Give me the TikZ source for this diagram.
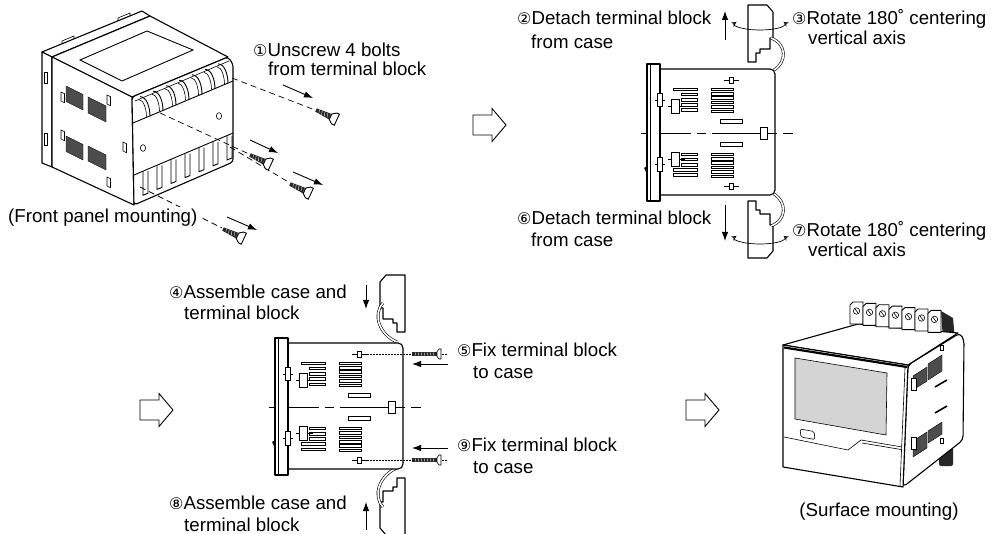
\documentclass[tikz,border=0pt]{standalone}
\usepackage{fontspec}
\setmainfont{Liberation Sans}
\newfontfamily\circfont{DejaVu Sans}
\usetikzlibrary{arrows.meta}

\newcommand{\cnum}[1]{{\circfont\fontsize{16}{16}\selectfont #1}}

\tikzset{
  dev/.style={draw, line width=1.1pt, line join=round, fill=white},
  thin/.style={draw, line width=0.6pt},
  vent/.style={draw, line width=0.4pt, fill=black!70},
  bar/.style={draw, line width=0.6pt, fill=white},
  strap/.style={draw, line width=0.6pt, double=white, double distance=1.6pt},
  push/.style={-{Latex[length=9pt,width=6.5pt]}, line width=0.9pt},
  turn/.style={{Stealth[open,length=5pt,width=5pt]}-{Stealth[open,length=5pt,width=5pt]}, line width=0.7pt},
  guide/.style={line width=0.7pt, dash pattern=on 6pt off 4pt},
  dotguide/.style={line width=0.7pt, dash pattern=on 1.5pt off 1.5pt},
  axisline/.style={line width=0.7pt, dash pattern=on 50pt off 6pt on 9pt off 6pt},
  hollow/.style={draw, line width=0.9pt, fill=white, line join=miter},
  lbl/.style={font=\fontsize{18.7}{22}\selectfont, anchor=base west, inner sep=0pt},
}

% side view of case (local coordinates, bezel top left = origin)
\newcommand{\sideview}{%
  \draw[dev, rounded corners=5pt] (12,5) -- (128,5) -- (128,131) -- (12,131);
  \draw[axisline] (-6,69) -- (146,69);
  \draw[dev] (0,0) rectangle (13,137);
  \draw[thin] (3,1) -- (3,136);
  \fill (-3,104) -- (0,102) -- (0,110) -- cycle;
  % vent bars
  \foreach \k in {0,...,4} {
    \pgfmathsetmacro\bx{\k==0 ? 26 : 34}
    \draw[bar] (\bx,24+5.2*\k) rectangle (50,26.6+5.2*\k);
  }
  \foreach \k in {0,...,4} {
    \pgfmathsetmacro\bx{\k<3 ? 34 : 26}
    \draw[bar] (\bx,89+5.2*\k) rectangle (50,91.6+5.2*\k);
  }
  \foreach \k in {0,...,5} {
    \draw[bar] (64,24+4.4*\k) rectangle (86,26.6+4.4*\k);
    \draw[bar] (64,89+4.4*\k) rectangle (86,91.6+4.4*\k);
  }
  \draw[bar] (73,55) rectangle (95,59);
  \draw[bar] (73,78) rectangle (95,82);
  \draw[bar] (113,63) rectangle (120,75);
  \draw[thin] (77,16) -- (92,16);
  \draw[bar] (82,13) rectangle (86,19);
  \draw[thin] (77,122) -- (92,122);
  \draw[bar] (82,119) rectangle (86,125);
  \draw[thin] (8,36) -- (18,36);
  \draw[bar] (10,29) rectangle (15,42);
  \draw[thin] (21,42) -- (38,42);
  \draw[bar] (24,35) rectangle (32,49);
  \draw[thin] (8,100) -- (18,100);
  \draw[bar] (10,93) rectangle (15,107);
  \draw[thin] (21,95) -- (38,95);
  \draw[bar] (24,88) rectangle (32,102);
}

% terminal block profile (local coordinates)
\newcommand{\termblock}{%
  \draw[dev] (0,0) -- (19,0) -- (25,7) -- (25,33) -- (22,33) -- (22,44)
    -- (12,44) -- (12,48) -- (8,48) -- (8,57) -- (0,57) -- cycle;
}

\begin{document}
\begin{tikzpicture}[x=1pt, y=-1pt]
  \useasboundingbox (0,0) rectangle (1001,534);

  % front panel mounting
  \draw[dev] (42,52) -- (142,11) -- (150,16) -- (52,57) -- cycle;
  \draw[dev] (42,52) -- (52,57) -- (52,167) -- (42,163) -- cycle;
  \draw[thin] (62,44) -- (62,41) -- (74,36) -- (74,39);
  \draw[thin] (118,21) -- (118,18) -- (130,13) -- (130,16);
  \draw[thin, fill=white] (44,72) rectangle (47,83);
  \draw[thin, fill=white] (44,133) rectangle (47,145);
  \draw[dev] (52,57) -- (150,16) -- (228,57) -- (132,97) -- cycle;
  \draw[thin, line width=0.9pt] (80,60) -- (147,31) -- (193,50) -- (122,81) -- cycle;
  \draw[dev] (52,57) -- (132,97) -- (134,205) -- (52,167) -- cycle;
  \draw[vent] (66,86) -- (83,94.5) -- (83,110) -- (66,101.5) -- cycle;
  \draw[vent] (88,97) -- (106,106) -- (106,122) -- (88,113) -- cycle;
  \draw[vent] (66,136) -- (83,144.5) -- (83,160) -- (66,151.5) -- cycle;
  \draw[vent] (88,146) -- (106,155) -- (106,170) -- (88,161) -- cycle;
  \foreach \px/\py in {61/92, 107/95, 61/130, 123/142, 107/177}
    \draw[thin, fill=white] (\px,\py) -- ++(3.5,1.7) -- ++(0,9) -- ++(-3.5,-1.7) -- cycle;
  \draw[dev, rounded corners=3pt] (132,97) -- (228,57) -- (233,64) -- (233,162) -- (134,205) -- cycle;
  \draw[thin] (135,101) -- (229,61);
  \draw[thin, line width=0.9pt] (133,123) -- (233,81);
  \draw[thin, line width=0.9pt] (134,175) -- (233,133);
  \foreach \i in {0,...,6} {
    \pgfmathsetmacro\fx{140+13*\i}
    \pgfmathsetmacro\fy{100-0.42*(\fx-132)}
    \draw[thin, line width=0.9pt] (\fx,\fy) .. controls +(7,0) and +(0,-8) .. +(10,19.5);
    \draw[thin] (\fx-1,\fy+3) .. controls +(5,0) and +(0,-6) .. +(7.5,17);
  }
  \foreach \i in {0,...,6} {
    \pgfmathsetmacro\fx{143+14*\i}
    \pgfmathsetmacro\fy{175-0.42*(\fx-134)}
    \draw[thin, line width=0.9pt] (\fx,\fy) -- ++(0,24) -- ++(5,-2) -- ++(0,-22);
  }
  \draw[thin] (143,148) ellipse (2.6 and 3.4);
  \draw[thin] (219,116) ellipse (2.6 and 3.4);
  % bolts
  \draw[guide] (232,78) -- (315,110);
  \draw[guide] (160,113) -- (249,154);
  \draw[guide] (230,147) -- (290,183);
  \draw[guide] (140,187) -- (222,228);
  \foreach \sx/\sy in {316/110, 250/155, 290/184, 223/229} {
    \begin{scope}[shift={(\sx,\sy)}, rotate=-25]
      \fill[black!85] (0,-1.8) -- (16,-3) -- (16,3) -- (0,1.8) -- cycle;
      \foreach \t in {3,6,...,15}
        \draw[white, line width=0.4pt] (\t,-1.8) -- (\t+1,1.8);
      \draw[thin, line width=0.9pt, fill=white] (16,-3) -- (20,-6) -- (23,-6) -- (23,6) -- (20,6) -- (16,3) -- cycle;
    \end{scope}
  }
  \draw[push] (283,85) -- (313,98);
  \draw[push] (250,140) -- (278,153);
  \draw[push] (293,172) -- (323,185);
  \draw[push] (227,217) -- (257,230);

  % step arrows
  \foreach \ax/\ay in {473/125, 140/410, 686/410}
    \draw[hollow] (\ax,\ay) ++(0,-10) -- ++(19,0) -- ++(0,-6.5) -- ++(14,16.5)
      -- ++(-14,16.5) -- ++(0,-6.5) -- ++(-19,0) -- cycle;

  % detach and rotate
  \begin{scope}[shift={(748,5)}]\termblock\end{scope}
  \begin{scope}[shift={(748,258)}, yscale=-1]\termblock\end{scope}
  \draw[strap] (771,38) .. controls (787,44) and (787,62) .. (774,70);
  \draw[strap] (774,194) .. controls (787,202) and (787,220) .. (771,226);
  \begin{scope}[shift={(647,64)}]\sideview\end{scope}
  \draw[turn] (760,24) ++(200:25 and 6) arc[start angle=200, end angle=-20, x radius=25, y radius=6];
  \draw[turn] (760,238) ++(200:25 and 6) arc[start angle=200, end angle=-20, x radius=25, y radius=6];
  \draw[push] (725,40) -- (725,11);
  \draw[push] (725,205) -- (725,241);

  % assemble and fix
  \begin{scope}[shift={(405,275)}, xscale=-1]\termblock\end{scope}
  \begin{scope}[shift={(405,535)}, xscale=-1, yscale=-1]\termblock\end{scope}
  \draw[strap] (383,303) .. controls (372,315) and (380,335) .. (397,342);
  \draw[strap] (397,468) .. controls (380,475) and (372,495) .. (383,507);
  \begin{scope}[shift={(275,338)}]\sideview\end{scope}
  \draw[dotguide] (367,354) -- (447,354);
  \draw[dotguide] (367,460) -- (447,460);
  \foreach \sy in {354, 460} {
    \fill[black!85] (412,\sy-2.3) rectangle (437,\sy+2.3);
    \foreach \t in {415,418,...,434}
      \draw[white, line width=0.4pt] (\t,\sy-1.6) -- (\t+1,\sy+1.6);
    \draw[thin, fill=white] (437,\sy-2.3) -- (439,\sy-5) -- (441,\sy-5) -- (441,\sy+5) -- (439,\sy+5) -- (437,\sy+2.3) -- cycle;
  }
  \draw[push] (448,364) -- (412,364);
  \draw[push] (448,448) -- (412,448);
  \draw[push] (366,285) -- (366,309);
  \draw[push] (366,530) -- (366,502);

  % surface mounting
  \fill[black!85] (941,311) -- (953,318) -- (955,340) -- (943,340) -- cycle;
  \fill[black!85, rounded corners=2pt] (939,440) rectangle (953,466);
  \draw[dev, rounded corners=4pt] (908,365) -- (960,333) -- (964,340) -- (963,440) -- (903,487) -- cycle;
  \draw[dev] (783,345) -- (858,324) -- (958,333) -- (908,365) -- cycle;
  \foreach \i in {0,...,6} {
    \begin{scope}[shift={(850+13*\i,302+1.4*\i)}]
      \draw[thin, line width=0.9pt, fill=white] (0,3) -- (3,0) -- (13,0) -- (13,22) -- (0,22) -- cycle;
      \draw[thin] (6.5,9) circle (3.2);
      \draw[thin] (5,7) -- (8,11);
    \end{scope}
  }
  \draw[vent] (913,376) -- (927,367) -- (927,381) -- (913,390) -- cycle;
  \draw[vent] (928,364) -- (942,355) -- (942,371) -- (928,380) -- cycle;
  \draw[vent] (913,441) -- (927,432) -- (927,448) -- (913,457) -- cycle;
  \draw[vent] (928,431) -- (942,422) -- (942,434) -- (928,443) -- cycle;
  \draw[thin, fill=white] (911,378) rectangle (916,390);
  \draw[thin, fill=white] (911,437) rectangle (916,449);
  \draw[thin, fill=white] (940,345) rectangle (943,350);
  \draw[thin, fill=white] (940,438) rectangle (943,443);
  \draw[line width=1.6pt] (935,387) -- (947,380);
  \draw[line width=1.6pt] (935,413) -- (947,406);
  \draw[dev] (783,345) -- (908,365) -- (903,487) -- (783,467) -- cycle;
  \draw[line width=2.2pt] (784,347.5) -- (907,367);
  \draw[thin] (905,368) -- (900,486);
  \draw[thin, fill=black!17] (795,358) -- (887,373) -- (886,435) -- (795,419) -- cycle;
  \draw[thin] (784,437) -- (848,450) -- (861,440) -- (902,447);
  \draw[thin] (862,443) -- (901,449.5);
  \draw[thin, rounded corners=1.5pt] (800,429) -- (814,431.5) -- (815,439.5) -- (801,437) -- cycle;

  % labels
  \node[lbl] (bolts1) at (253,56.5) {\cnum{①}Unscrew 4 bolts};
  \node[lbl] (bolts2) at (268,75.5) {from terminal block};
  \node[lbl, fill=white, inner sep=1.5pt] (front) at (6.5,222.5) {(Front panel mounting)};
  \node[lbl] (detachup1) at (517,24.5) {\cnum{②}Detach terminal block};
  \node[lbl] (detachup2) at (531,48.5) {from case};
  \node[lbl] (rotup1) at (792,24.5) {\cnum{③}Rotate 180˚ centering};
  \node[lbl] (rotup2) at (808,44.5) {vertical axis};
  \node[lbl] (detachdn1) at (517,224.5) {\cnum{⑥}Detach terminal block};
  \node[lbl] (detachdn2) at (531,246.5) {from case};
  \node[lbl] (rotdn1) at (792,236.5) {\cnum{⑦}Rotate 180˚ centering};
  \node[lbl] (rotdn2) at (808,256.5) {vertical axis};
  \node[lbl] (assup1) at (169,298.5) {\cnum{④}Assemble case and};
  \node[lbl] (assup2) at (184,319.5) {terminal block};
  \node[lbl] (fixup1) at (457,356.5) {\cnum{⑤}Fix terminal block};
  \node[lbl] (fixup2) at (473,378.5) {to case};
  \node[lbl] (fixdn1) at (457,451.5) {\cnum{⑨}Fix terminal block};
  \node[lbl] (fixdn2) at (473,473.5) {to case};
  \node[lbl] (assdn1) at (169,509.5) {\cnum{⑧}Assemble case and};
  \node[lbl] (assdn2) at (184,531) {terminal block};
  \node[lbl, anchor=base] (surface) at (879,516.5) {(Surface mounting)};
\end{tikzpicture}
\end{document}
